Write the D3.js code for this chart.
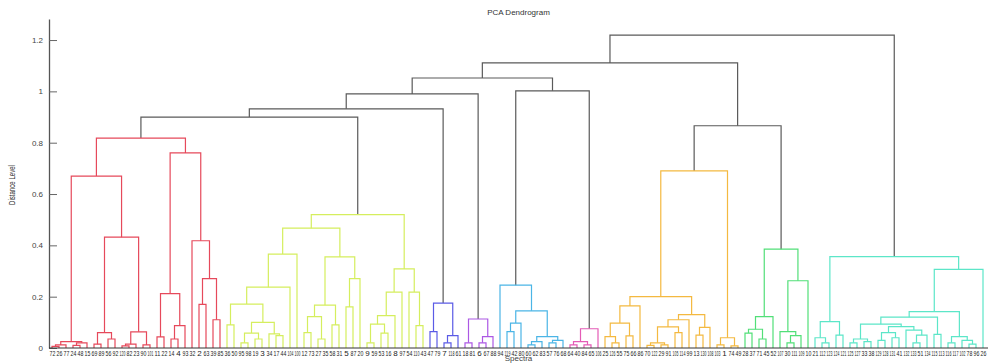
<!DOCTYPE html>
<html>
<head>
<meta charset="utf-8">
<script src="https://cdn.jsdelivr.net/npm/d3@7"></script>
<style>
  html, body { margin: 0; padding: 0; background: #fff; }
  svg { display: block; font-family: "Liberation Sans", Arial, sans-serif; }
</style>
</head>
<body>
<div id="chart"></div>
<script>
// Leaf labels, left to right
const leafLabels = [
  72, 26, 77, 24, 48, 15, 69, 89, 56, 92, 120, 82, 23, 90, 101, 11, 22, 14, 4, 93, 32, 2, 63, 39, 85,
  36, 50, 95, 98, 19, 3, 34, 17, 44, 104, 100, 12, 73, 27, 35, 58, 31, 5, 87, 20, 9, 59, 53, 16, 8, 97, 54, 110, 43,
  47, 79, 7, 118, 61,
  18, 81, 6, 67, 88,
  94, 119, 42, 80, 60, 62, 83, 57, 76, 68,
  64, 40, 84, 65, 106,
  25, 126, 55, 75, 66, 86, 70, 122, 29, 91, 105, 114, 99, 13, 130, 108, 103, 1, 74, 49,
  28, 37, 71, 45, 52, 107, 30, 111, 109, 10,
  21, 112, 123, 124, 121, 125, 127, 33, 38, 129, 128, 131, 41, 132, 133, 51, 134, 115, 113, 116, 117, 102, 78, 96, 26
].map(String);

// Clusters below the colour threshold: [distance, left, right], leaves are leaf positions
const redCluster = [0.818,
  [0.67,
    [0.025, [0.012, [0.006, 0, 1], 2], [0.02, [0.01, 3, 4], 5]],
    [0.432,
      [0.06, [0.015, 6, 7], [0.035, 8, 9]],
      [0.063, [0.015, [0.008, 10, 11], 12], [0.012, 13, 14]]]],
  [0.76,
    [0.212, [0.043, 15, 16], [0.087, [0.035, 17, 18], 19]],
    [0.418, 20, [0.27, [0.17, 21, 22], [0.11, 23, 24]]]]];

const yellowCluster = [0.52,
  [0.467,
    [0.366,
      [0.237,
        [0.171,
          [0.09, 25, 26],
          [0.1,
            [0.058, [0.02, 27, 28], [0.035, 29, 30]],
            [0.055, 31, [0.048, 32, 33]]]],
        34],
      35],
    [0.355,
      [0.167, [0.122, [0.06, 36, 37], [0.035, 38, 39]], [0.09, 40, 41]],
      [0.27, [0.16, 42, 43], 44]]],
  [0.308,
    [0.218, [0.126, [0.093, [0.02, 45, 46], [0.058, 47, 48]], 49], 50],
    [0.218, 51, [0.087, 52, 53]]]];

const blueCluster = [0.175, [0.064, 54, 55], [0.048, [0.02, 56, 57], 58]];

const purpleCluster = [0.113, [0.02, 59, 60], [0.044, [0.02, 61, 62], 63]];

const skyCluster = [0.245, 64,
  [0.145,
    [0.097, [0.064, 65, 66], 67],
    [0.044, [0.025, [0.012, 68, 69], 70], [0.03, [0.02, 71, 72], 73]]]];

const pinkCluster = [0.075, [0.025, [0.012, 74, 75], [0.012, 76, 77]], 78];

const orangeCluster = [0.69,
  [0.2,
    [0.164, [0.097, [0.044, 79, [0.02, 80, 81]], [0.047, 82, 83]], 84],
    [0.13,
      [0.11, [0.082, [0.02, [0.01, 85, 86], [0.012, 87, 88]], [0.06, 89, 90]], 91],
      [0.08, [0.05, 92, 93], 94]]],
  [0.04, [0.012, 95, 96], [0.008, 97, 98]]];

const greenCluster = [0.385,
  [0.122, [0.073, [0.058, 99, 100], [0.035, 101, 102]], 103],
  [0.262, [0.064, 104, [0.048, [0.02, 105, 106], 107]], 108]];

const aquaCluster = [0.356,
  [0.103, [0.04, 109, [0.02, 110, 111]], [0.05, 112, 113]],
  [0.306,
    [0.142,
      [0.12,
        [0.093,
          [0.035, [0.02, 114, 115], [0.025, 116, 117]],
          [0.083, [0.06, [0.03, 118, 119], [0.04, 120, 121]], [0.07, 122, [0.05, [0.02, 123, 124], 125]]]],
        [0.053, 126, 127]],
      [0.044, [0.02, 128, 129], [0.03, 130, [0.015, 131, 132]]]],
    133]];

// Merges above the threshold, joining the clusters by name
const upperTree = [1.219,
  [1.111,
    [1.052,
      [0.99, [0.932, [0.9, 'red', 'yellow'], 'blue'], 'purple'],
      [1.002, 'sky', 'pink']],
    [0.866, 'orange', 'green']],
  'aqua'];

const clusterNames = ['red', 'yellow', 'blue', 'purple', 'sky', 'pink', 'orange', 'green', 'aqua'];
const clusterTrees = [redCluster, yellowCluster, blueCluster, purpleCluster, skyCluster, pinkCluster, orangeCluster, greenCluster, aquaCluster];
const clusterColors = ['#e6495b', '#d5ee5e', '#5b5be6', '#ac58e4', '#4bb5e6', '#e45cb6', '#f4b940', '#52df78', '#5ce6c8'];
const linkColor = '#5a5a5a';

const yTicks = [0, 0.2, 0.4, 0.6, 0.8, 1, 1.2];

const width = 988, height = 363;
const margin = { top: 19, right: 5, bottom: 15, left: 49 };
const baseY = height - margin.bottom;

const svg = d3.select('#chart')
  .append('svg')
    .attr('width', width)
    .attr('height', height);

// Scales
const x = d3.scalePoint()
  .domain(d3.range(leafLabels.length))
  .range([margin.left + 3, width - margin.right]);

const y = d3.scaleLinear()
  .domain([0, 1.282])
  .range([baseY, margin.top]);

// Build the tree, swapping cluster names for their arrays
const colorOf = new Map(clusterTrees.map((t, i) => [t, clusterColors[i]]));
function resolve(n) {
  if (typeof n === 'string') return clusterTrees[clusterNames.indexOf(n)];
  if (Array.isArray(n)) return [n[0], resolve(n[1]), resolve(n[2])];
  return n;
}
const root = d3.hierarchy(resolve(upperTree), d => Array.isArray(d) ? [d[1], d[2]] : null);

root.eachAfter(node => {
  node.h = node.children ? node.data[0] : 0;
  node.px = node.children ? (node.children[0].px + node.children[1].px) / 2 : x(node.data);
});
root.eachBefore(node => {
  node.color = colorOf.get(node.data) || (node.parent ? node.parent.color : linkColor);
});

// Add the links
svg.append('g')
  .attr('fill', 'none')
  .attr('stroke-width', 1.2)
  .selectAll('path')
  .data(root.descendants().filter(d => d.children))
  .join('path')
    .attr('stroke', d => d.color)
    .attr('d', d => {
      const [a, b] = d.children;
      return `M${a.px},${y(a.h)}V${y(d.h)}H${b.px}V${y(b.h)}`;
    });

// Add Y axis
const yAxis = svg.append('g')
  .attr('transform', `translate(${margin.left},0)`)
  .call(d3.axisLeft(y).tickValues(yTicks).tickFormat(d3.format('~g')).tickSizeInner(-8).tickSizeOuter(0).tickPadding(6));
yAxis.select('.domain').attr('stroke', '#555').attr('stroke-width', 1.3);
yAxis.selectAll('line').attr('stroke', '#666');
yAxis.selectAll('text').style('fill', '#444').style('font-size', '8px');

// Add X axis
const xAxis = svg.append('g')
  .attr('transform', `translate(0,${baseY})`)
  .call(d3.axisBottom(x).tickFormat(i => leafLabels[i]).tickSize(0).tickPadding(2));
xAxis.select('.domain').remove();
xAxis.append('line')
  .attr('x1', margin.left)
  .attr('x2', width)
  .attr('stroke', '#333')
  .attr('stroke-width', 1);

// Squeeze the crowded leaf labels into their slot, like a condensed face
const slot = x.step() - 1.2;
xAxis.selectAll('.tick text')
  .style('fill', '#222')
  .style('font-size', '8px')
  .each(function () {
    if (this.getComputedTextLength() > slot) {
      d3.select(this).attr('textLength', slot).attr('lengthAdjust', 'spacingAndGlyphs');
    }
  });

// Titles
svg.append('text')
  .attr('x', (margin.left + width) / 2)
  .attr('y', 15)
  .attr('text-anchor', 'middle')
  .style('font-size', '8px')
  .style('fill', '#333')
  .text('PCA Dendrogram');

svg.append('text')
  .attr('x', (margin.left + width) / 2)
  .attr('y', height - 2)
  .attr('text-anchor', 'middle')
  .style('font-size', '8px')
  .style('fill', '#444')
  .text('Spectra');

svg.append('text')
  .attr('transform', `translate(15,${y(0.6) - 9}) rotate(-90)`)
  .attr('text-anchor', 'middle')
  .attr('textLength', 40)
  .attr('lengthAdjust', 'spacingAndGlyphs')
  .style('font-size', '9px')
  .style('fill', '#333')
  .text('Distance Level');
</script>
</body>
</html>
